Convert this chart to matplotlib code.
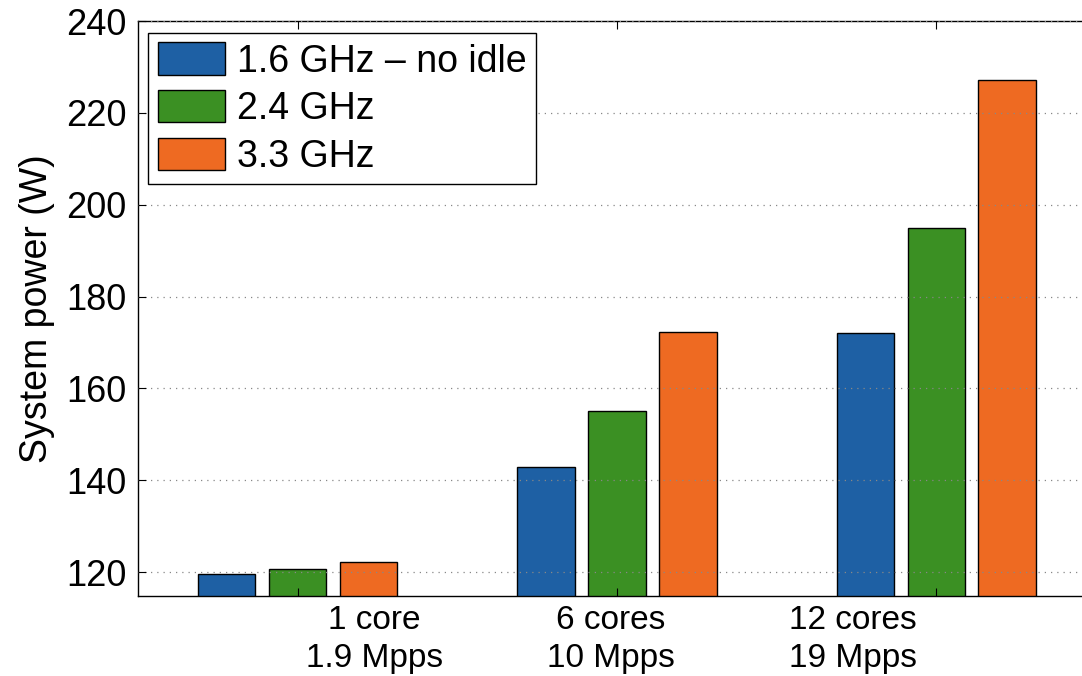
import numpy as np
import matplotlib.pyplot as plt

plt.rcParams['font.family'] = ['Liberation Sans', 'DejaVu Sans']

# data
groups = ["1 core\n1.9 Mpps", "6 cores\n10 Mpps", "12 cores\n19 Mpps"]
series = ["1.6 GHz \u2013 no idle", "2.4 GHz", "3.3 GHz"]
p16 = [119.7, 143.0, 172.0]
p24 = [120.7, 155.0, 195.0]
p33 = [122.3, 172.2, 227.2]
colors = ["#1e60a4", "#3b9023", "#ee6a22"]
yticks = [120, 140, 160, 180, 200, 220, 240]
# label positions as drawn in the original (offset from the groups)
label_x = [1.24, 1.98, 2.74]

fig = plt.figure(figsize=(10.82, 6.76), dpi=100)
ax = fig.add_axes([0.1275, 0.1183, 0.8825, 0.8506])

x = np.arange(1, len(groups) + 1)
w = 0.18
off = 0.222
for i, (vals, c, lab) in enumerate(zip([p16, p24, p33], colors, series)):
    ax.bar(x + (i - 1) * off, vals, width=w, color=c, edgecolor='black',
           linewidth=1.0, label=lab, zorder=2)

ax.set_xlim(0.5, 3.49)
ax.set_ylim(114.8, 240)
ax.set_yticks(yticks)
ax.set_yticklabels([str(t) for t in yticks], fontsize=26)
ax.set_xticks(x)
ax.set_xticklabels([])
ax.tick_params(axis='both', direction='in', length=6, width=0.8, top=True,
               right=False, pad=8)
ax.spines['right'].set_visible(False)
for s in ['left', 'bottom', 'top']:
    ax.spines[s].set_linewidth(1.0)

ax.yaxis.grid(True, linestyle=(0, (1, 4)), color='#888888', linewidth=0.9, zorder=3)
ax.set_axisbelow(False)

for lx, g in zip(label_x, groups):
    ax.text(lx, -0.015, g, transform=ax.get_xaxis_transform(), ha='center', va='top',
            fontsize=24, linespacing=1.3)

ax.set_ylabel("System power (W)", fontsize=27, labelpad=8)

leg = ax.legend(loc='upper left', bbox_to_anchor=(0.011, 0.979), fontsize=27,
                frameon=True, fancybox=False, edgecolor='black', framealpha=1,
                handlelength=1.8, handleheight=0.95, handletextpad=0.3,
                borderpad=0.25, labelspacing=0.28, borderaxespad=0)
leg.get_frame().set_linewidth(1.0)

fig.savefig("out.png", dpi=100)
